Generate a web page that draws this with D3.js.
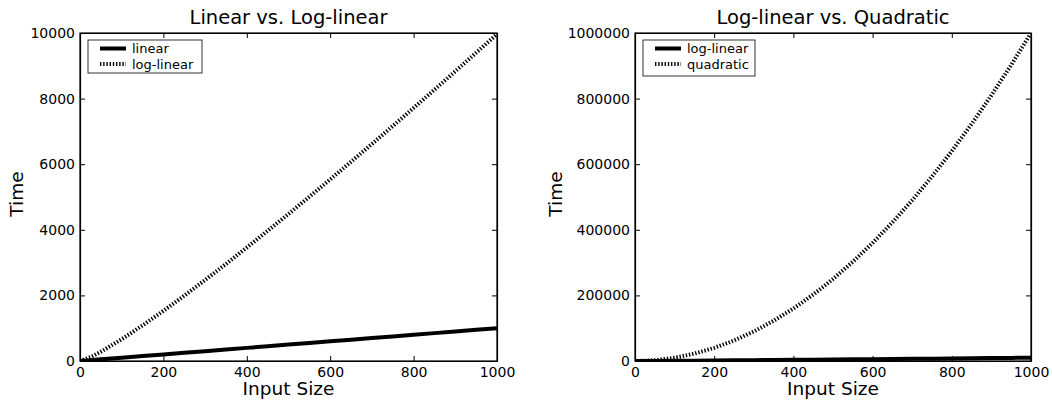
<!DOCTYPE html>
<html>
<head>
<meta charset="utf-8">
<script src="https://cdn.jsdelivr.net/npm/d3@7"></script>
<style>
  body { margin: 0; background: #fff; }
  text { font-family: "DejaVu Sans", sans-serif; fill: #000; }
</style>
</head>
<body>
<div id="chart"></div>
<script>
// values
var inputSizes = [0, 25, 50, 100, 150, 200, 250, 300, 350, 400, 450, 500,
                  550, 600, 650, 700, 750, 800, 850, 900, 950, 1000];
var linearTime = [0, 25, 50, 100, 150, 200, 250, 300, 350, 400, 450, 500,
                  550, 600, 650, 700, 750, 800, 850, 900, 950, 1000];
var logLinearTime = [0, 116, 282, 664, 1084, 1529, 1991, 2469, 2958, 3458, 3966, 4483,
                     5007, 5537, 6074, 6616, 7163, 7715, 8271, 8833, 9398, 9966];
var quadraticTime = [0, 625, 2500, 10000, 22500, 40000, 62500, 90000, 122500, 160000, 202500, 250000,
                     302500, 360000, 422500, 490000, 562500, 640000, 722500, 810000, 902500, 1000000];

var xTicks = [0, 200, 400, 600, 800, 1000];
var yTicksLeft = [0, 2000, 4000, 6000, 8000, 10000];
var yTicksRight = [0, 200000, 400000, 600000, 800000, 1000000];

var svgWidth = 1052;
var svgHeight = 402;

var svg = d3.select("#chart")
  .append("svg")
  .attr("width", svgWidth)
  .attr("height", svgHeight);

function toPoints(ys) {
  return inputSizes.map(function (x, i) { return { x: x, y: ys[i] }; });
}

function drawPanel(opts) {
  var left = opts.left, right = opts.right, top = 33, bottom = 361;
  var w = right - left, h = bottom - top;

  var g = svg.append("g")
    .attr("transform", `translate(${left}, ${top})`);

  var x = d3.scaleLinear().domain([0, 1000]).range([0, w]);
  var y = d3.scaleLinear().domain([0, opts.yMax]).range([h, 0]);

  // clip region for the lines
  svg.append("clipPath")
    .attr("id", opts.id)
    .append("rect")
    .attr("width", w)
    .attr("height", h);

  var line = d3.line()
    .x(d => x(d.x))
    .y(d => y(d.y));

  var lines = g.append("g").attr("clip-path", `url(#${opts.id})`);

  opts.series.forEach(function (s) {
    lines.append("path")
      .datum(toPoints(s.values))
      .attr("fill", "none")
      .attr("stroke", "#000")
      .attr("stroke-width", 4)
      .attr("stroke-dasharray", s.dotted ? "1.4,1.8" : null)
      .attr("d", line);
  });

  // axes, ticks pointing inward like old matplotlib
  var fmt = d3.format("d");
  var bottomAxis = d3.axisBottom(x).tickValues(xTicks).tickSizeInner(-5).tickSizeOuter(0).tickPadding(6).tickFormat(fmt);
  var topAxis = d3.axisTop(x).tickValues(xTicks).tickSizeInner(-5).tickSizeOuter(0).tickFormat("");
  var leftAxis = d3.axisLeft(y).tickValues(opts.yTicks).tickSizeInner(-5).tickSizeOuter(0).tickPadding(5).tickFormat(fmt);
  var rightAxis = d3.axisRight(y).tickValues(opts.yTicks).tickSizeInner(-5).tickSizeOuter(0).tickFormat("");

  g.append("g").attr("transform", `translate(0, ${h})`).call(bottomAxis);
  g.append("g").call(topAxis);
  g.append("g").call(leftAxis);
  g.append("g").attr("transform", `translate(${w}, 0)`).call(rightAxis);

  g.selectAll(".domain").attr("stroke", "#000").attr("stroke-width", 1.2);
  g.selectAll(".tick line").attr("stroke", "#000");
  g.selectAll(".tick text")
    .style("font-family", "DejaVu Sans, sans-serif")
    .style("font-size", "14px")
    .attr("fill", "#000");

  // frame
  g.append("rect")
    .attr("width", w)
    .attr("height", h)
    .attr("fill", "none")
    .attr("stroke", "#000")
    .attr("stroke-width", 1.2);

  // title and axis labels
  g.append("text")
    .attr("x", w / 2)
    .attr("y", -9)
    .attr("text-anchor", "middle")
    .style("font-size", "19.5px")
    .text(opts.title);

  g.append("text")
    .attr("x", w / 2)
    .attr("y", h + 34)
    .attr("text-anchor", "middle")
    .style("font-size", "18.5px")
    .text("Input Size");

  g.append("text")
    .attr("transform", "rotate(-90)")
    .attr("x", -h / 2 + 3)
    .attr("y", opts.ylabelX)
    .attr("text-anchor", "middle")
    .style("font-size", "18.5px")
    .text("Time");

  // legend
  var lg = g.append("g").attr("transform", `translate(${opts.legend.x - left}, ${opts.legend.y - top})`);
  lg.append("rect")
    .attr("width", opts.legend.w)
    .attr("height", opts.legend.h)
    .attr("fill", "#fff")
    .attr("stroke", "#000")
    .attr("stroke-width", 0.8);

  opts.series.forEach(function (s, i) {
    var yy = 8.5 + i * 15.5;
    lg.append("line")
      .attr("x1", 12).attr("x2", 38)
      .attr("y1", yy).attr("y2", yy)
      .attr("stroke", "#000")
      .attr("stroke-width", 4)
      .attr("stroke-dasharray", s.dotted ? "1.4,1.8" : null);
    lg.append("text")
      .attr("x", 44)
      .attr("y", yy + 4.5)
      .style("font-size", "13px")
      .text(s.name);
  });
}

drawPanel({
  id: "clipLeft",
  left: 80, right: 497,
  yMax: 10000,
  yTicks: yTicksLeft,
  title: "Linear vs. Log-linear",
  ylabelX: -57,
  legend: { x: 88, y: 40, w: 114, h: 33 },
  series: [
    { name: "linear", values: linearTime, dotted: false },
    { name: "log-linear", values: logLinearTime, dotted: true }
  ]
});

drawPanel({
  id: "clipRight",
  left: 635, right: 1031,
  yMax: 1000000,
  yTicks: yTicksRight,
  title: "Log-linear vs. Quadratic",
  ylabelX: -73,
  legend: { x: 643, y: 40, w: 112, h: 36 },
  series: [
    { name: "log-linear", values: logLinearTime, dotted: false },
    { name: "quadratic", values: quadraticTime, dotted: true }
  ]
});
</script>
</body>
</html>
